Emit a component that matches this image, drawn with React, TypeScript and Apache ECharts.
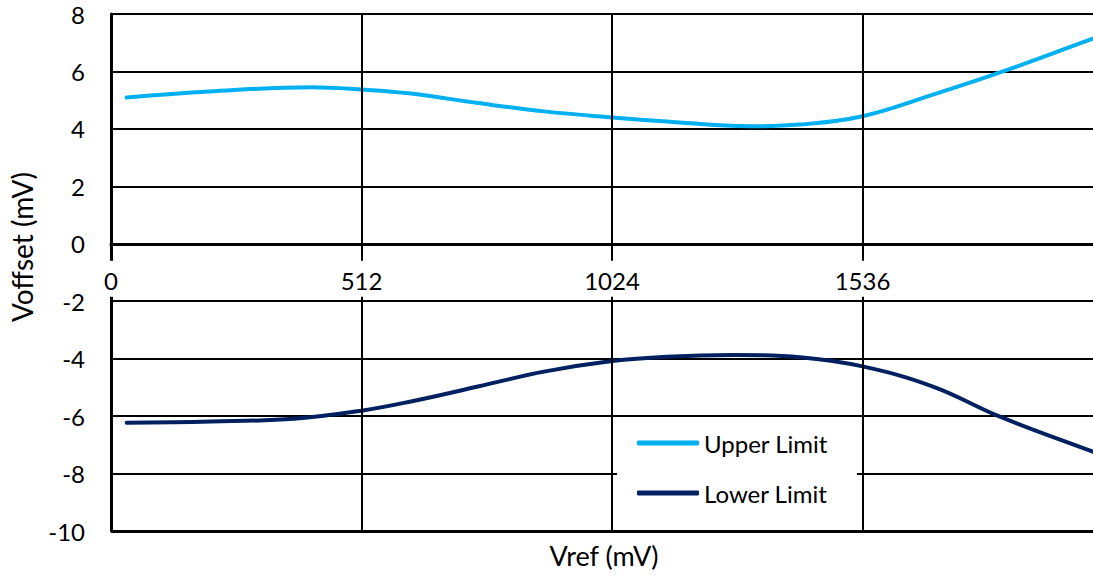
import React, { useEffect, useRef } from "react";
import * as echarts from "echarts";

// Vref (mV) positions and Voffset (mV) values
const upperVref = [32, 200, 410, 512, 613, 750, 885, 1024, 1136, 1306, 1408, 1536, 1680, 1823, 2007, 2048];
const upperValues = [5.09, 5.3, 5.45, 5.37, 5.23, 4.9, 4.61, 4.4, 4.26, 4.09, 4.15, 4.44, 5.19, 6.0, 7.14, 7.38];

const lowerVref = [32, 204, 374, 512, 613, 750, 885, 1024, 1136, 1272, 1408, 1536, 1680, 1817, 2007, 2048];
const lowerValues = [-6.23, -6.19, -6.09, -5.81, -5.49, -4.97, -4.45, -4.08, -3.93, -3.87, -3.95, -4.27, -4.97, -6.02, -7.24, -7.5];

const seriesNames = ["Upper Limit", "Lower Limit"];
const xTicks = { min: 0, max: 2048, interval: 512 };
const yTicks = { min: -10, max: 8, interval: 2 };
const xTitle = "Vref (mV)";
const yTitle = "Voffset (mV)";

const FONT = "Lato, 'Open Sans', sans-serif";

const GRID_TOP = 14;
const GRID_BOTTOM = 46;
const HEIGHT = 577;

export default function App() {
  const ref = useRef<HTMLDivElement>(null);
  useEffect(() => {
    if (!ref.current) return;
    const chart = echarts.init(ref.current, undefined, { renderer: "svg" });
    const upper = upperVref.map((x, i) => [x, upperValues[i]]);
    const lower = lowerVref.map((x, i) => [x, lowerValues[i]]);
    // place x-axis on the y=0 line (pixel distance from grid bottom to zero)
    const plotH = HEIGHT - GRID_TOP - GRID_BOTTOM;
    const zeroFromBottom = (plotH * (0 - yTicks.min)) / (yTicks.max - yTicks.min);
    chart.setOption({
      animation: false,
      backgroundColor: "#ffffff",
      textStyle: { fontFamily: FONT },
      grid: {
        left: 111,
        top: GRID_TOP,
        right: -20,
        bottom: GRID_BOTTOM,
        containLabel: false,
        outerBoundsMode: "none",
      },
      xAxis: {
        type: "value",
        min: xTicks.min,
        max: xTicks.max,
        interval: xTicks.interval,
        position: "bottom",
        offset: -zeroFromBottom,
        z: 5,
        axisLine: { show: true, onZero: false, lineStyle: { color: "#000", width: 3 } },
        axisTick: { show: false },
        splitLine: { show: true, lineStyle: { color: "#000", width: 2 } },
        axisLabel: {
          show: true,
          showMaxLabel: false,
          formatter: (v: number) => String(v),
          color: "#000",
          fontFamily: FONT,
          fontSize: 24,
          lineHeight: 24,
          margin: 17,
          padding: [8, 5, 4, 5],
          backgroundColor: "#ffffff",
        },
      },
      yAxis: {
        type: "value",
        min: yTicks.min,
        max: yTicks.max,
        interval: yTicks.interval,
        axisLine: { show: true, onZero: false, lineStyle: { color: "#000", width: 3 } },
        axisTick: { show: false },
        splitLine: { show: true, lineStyle: { color: "#000", width: 2 } },
        axisLabel: {
          color: "#000",
          fontFamily: FONT,
          fontSize: 24,
          margin: 26,
        },
      },
      legend: {
        show: true,
        orient: "vertical",
        left: 617,
        top: 422,
        data: seriesNames,
        icon: "roundRect",
        itemWidth: 62,
        itemHeight: 5,
        itemGap: 26,
        backgroundColor: "#ffffff",
        padding: [9, 29, 15, 20],
        textStyle: { color: "#000", fontFamily: FONT, fontSize: 24, lineHeight: 24 },
        z: 10,
      },
      series: [
        {
          name: seriesNames[0],
          type: "line",
          data: upper,
          smooth: 0.4,
          symbol: "none",
          lineStyle: { color: "#00B0F0", width: 4, cap: "round" },
          itemStyle: { color: "#00B0F0" },
          z: 3,
        },
        {
          name: seriesNames[1],
          type: "line",
          data: lower,
          smooth: 0.4,
          symbol: "none",
          lineStyle: { color: "#002060", width: 4, cap: "round" },
          itemStyle: { color: "#002060" },
          z: 3,
          markLine: {
            silent: true,
            symbol: "none",
            label: { show: false },
            lineStyle: { color: "#000", width: 3, type: "solid" },
            data: [{ yAxis: yTicks.min }],
          },
        },
      ],
      graphic: [
        {
          type: "text",
          x: 604,
          y: 555,
          style: {
            text: xTitle,
            fontFamily: FONT,
            fontSize: 27,
            fill: "#000",
            align: "center",
            verticalAlign: "middle",
          },
        },
        {
          type: "text",
          x: 22,
          y: 247,
          rotation: Math.PI / 2,
          style: {
            text: yTitle,
            fontFamily: FONT,
            fontSize: 28,
            fill: "#000",
            align: "center",
            verticalAlign: "middle",
          },
        },
      ],
    });
    return () => chart.dispose();
  }, []);
  return (
    <div
      ref={ref}
      style={{ position: "fixed", left: 0, top: 0, width: 1093, height: 577, overflow: "hidden" }}
    />
  );
}
